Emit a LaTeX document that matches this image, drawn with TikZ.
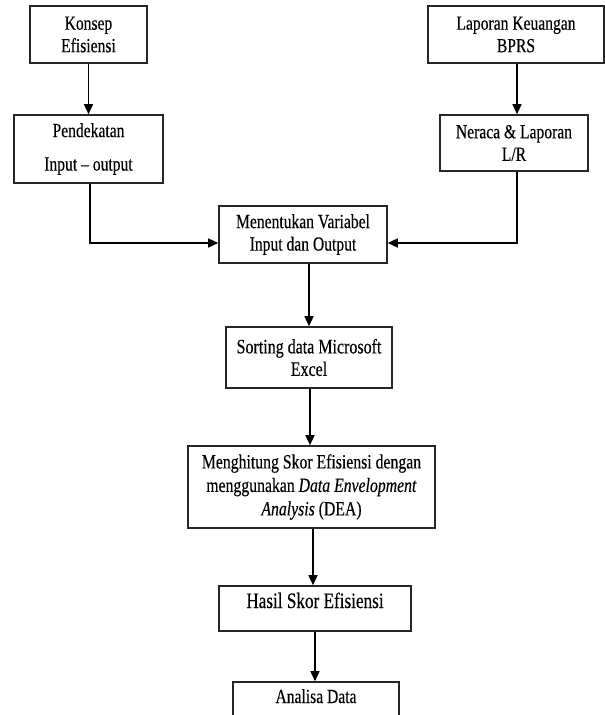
\documentclass[tikz,border=0pt]{standalone}
\usepackage{fontspec}
\setmainfont{Liberation Serif}[FakeStretch=0.78,FakeBold=0.3]
\usetikzlibrary{arrows.meta}
\begin{document}
\begin{tikzpicture}[x=1pt,y=-1pt,
  box/.style={draw=black!85, line width=1.6pt, inner sep=0pt, align=center,
    font=\fontsize{20}{22.5}\selectfont},
  arr/.style={line width=1.5pt, -{Triangle[length=10pt,width=9pt]}}]
\useasboundingbox (0,0) rectangle (605,715);
\clip (0,0) rectangle (605,715);
\fill[white] (0,0) rectangle (605,715);
\node[box, minimum width=117pt, minimum height=57pt] (n1) at (88.5,34.5) {Konsep\\Efisiensi};
\node[box, minimum width=149pt, minimum height=68pt] (n2) at (88.5,149) {Pendekatan\\[11pt]Input -- output};
\node[box, minimum width=176pt, minimum height=57pt] (n3) at (516,34.5) {Laporan Keuangan\\BPRS};
\node[box, minimum width=148pt, minimum height=56pt] (n4) at (514,143) {Neraca \& Laporan\\L/R};
\node[box, minimum width=168pt, minimum height=57pt] (n5) at (303,234.5) {Menentukan Variabel\\Input dan Output};
\node[box, minimum width=166pt, minimum height=61pt, font=\fontsize{20.5}{22.5}\selectfont] (n6) at (309,357.5) {Sorting data Microsoft\\Excel};
\node[box, minimum width=247pt, minimum height=82pt, font=\fontsize{20.2}{23.5}\selectfont] (n7) at (311.5,487) {Menghitung Skor Efisiensi dengan\\menggunakan \textit{Data Envelopment}\\\textit{Analysis} (DEA)};
\node[box, minimum width=192pt, minimum height=45pt, text height=13pt, text depth=14pt, font=\fontsize{22}{23}\selectfont] (n8) at (315,608.5) {Hasil Skor Efisiensi};
\node[box, minimum width=166pt, minimum height=60pt, text height=13pt, text depth=31pt] (n9) at (316,712) {Analisa Data};
\draw[arr] (n1.south) -- (n2.north);
\draw[arr] ([xshift=1pt]n3.south) -- ([xshift=1pt]n3.south |- n4.north);
\draw[arr] ([xshift=1.5pt]n2.south) |- ([yshift=-8.5pt]n5.west);
\draw[arr] ([xshift=3pt]n4.south) |- ([yshift=-8.5pt]n5.east);
\draw[arr] ([xshift=6pt]n5.south) -- ([xshift=6pt]n5.south |- n6.north);
\draw[arr] ([xshift=1pt]n6.south) -- ([xshift=1pt]n6.south |- n7.north);
\draw[arr] ([xshift=1.5pt]n7.south) -- ([xshift=1.5pt]n7.south |- n8.north);
\draw[arr] (n8.south) -- (n8.south |- n9.north);
\end{tikzpicture}
\end{document}
